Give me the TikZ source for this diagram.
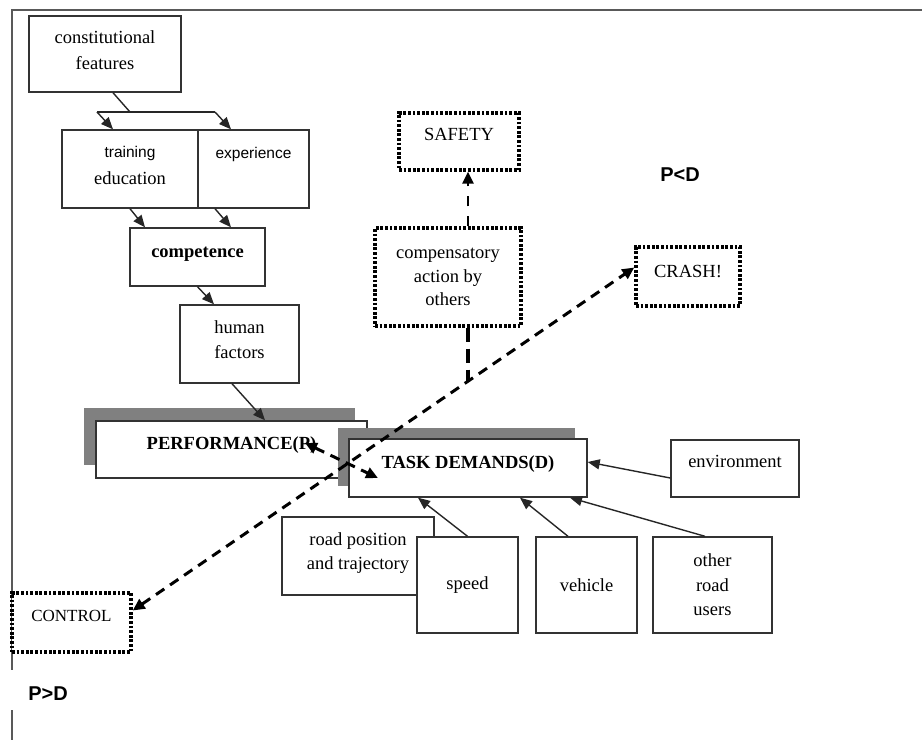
\documentclass[tikz,border=0pt]{standalone}
\usepackage{fontspec}
\setmainfont{Liberation Serif}
\newfontfamily\arialf{Liberation Sans}
\usetikzlibrary{arrows.meta,calc}
\begin{document}
\begin{tikzpicture}[x=1pt,y=-1pt,
  box/.style={draw=black!80, line width=1.4pt, fill=white, inner sep=0pt, align=center,
              font=\fontsize{18.5}{24.5}\selectfont},
  bbox/.style={box, font=\bfseries\fontsize{18.5}{24.5}\selectfont},
  dotbox/.style={box, draw=black, line width=3.4pt, dash pattern=on 2.8pt off 1.8pt},
  shadowbox/.style={fill=black!50, draw=none, inner sep=0pt},
  frame/.style={draw=black!65, line width=1.5pt},
  plain/.style={draw=black!85, line width=1.4pt},
  arr/.style={plain, -{Triangle[length=12pt,width=10pt]}},
  dline/.style={line width=3pt, dash pattern=on 10pt off 7pt},
  dthin/.style={line width=2.4pt, dash pattern=on 10pt off 10pt},
  dthick/.style={line width=4pt, dash pattern=on 14pt off 7pt},
  dtip/.style={-{Triangle[length=12pt,width=11pt]}},
  dtips/.style={{Triangle[length=12pt,width=11pt]}-{Triangle[length=12pt,width=11pt]}},
  tx/.style={text height=13pt, text depth=#1},
  sflabel/.style={font=\arialf\bfseries\fontsize{20}{24}\selectfont, inner sep=0pt}
]
\useasboundingbox (0,0) rectangle (922,740);
% frame
\draw[frame] (922,10) -- (12,10) -- (12,670);
\draw[frame] (12,710) -- (12,740);

% left column
\node[box, minimum width=152pt, minimum height=76pt, text depth=8pt, font=\fontsize{18.5}{26}\selectfont] (cf) at (105,54) {constitutional\\features};
\node[box, minimum width=136pt, minimum height=78pt, text depth=7pt] (te) at (130,169)
  {{\arialf\fontsize{15.5}{18}\selectfont training}\\[3pt]education};
\node[box, minimum width=111pt, minimum height=78pt] (ex) at (253.5,169)
  {{\arialf\fontsize{15.5}{18}\selectfont experience}\\\strut};
\node[bbox, minimum width=135pt, minimum height=58pt, tx=12pt] (comp) at (197.5,257) {competence};
\node[box, minimum width=119pt, minimum height=78pt, text depth=9pt] (hf) at (239.5,344) {human\\factors};

% performance and task demands
\node[shadowbox, minimum width=271pt, minimum height=57pt] (perfsh) at (219.5,436.5) {};
\node[bbox, minimum width=271pt, minimum height=57pt, tx=13pt] (perf) at (231.5,449.5) {PERFORMANCE(P)};
\node[shadowbox, minimum width=237pt, minimum height=58pt] (tdsh) at (456.5,457) {};
\node[bbox, minimum width=238pt, minimum height=58pt, tx=12pt] (td) at (468,468) {TASK DEMANDS(D)};

% factors
\node[box, minimum width=128pt, minimum height=57pt, tx=16pt] (env) at (735,468.5) {environment};
\node[box, minimum width=152pt, minimum height=78pt, text depth=10pt] (rp) at (358,556) {road position\\and trajectory};
\node[box, minimum width=101pt, minimum height=96pt] (sp) at (467.5,585) {speed};
\node[box, minimum width=101pt, minimum height=96pt] (ve) at (586.5,585) {vehicle};
\node[box, minimum width=119pt, minimum height=96pt] (oru) at (712.5,585) {other\\road\\users};

% dotted outcome boxes
\node[dotbox, minimum width=120pt, minimum height=57pt, tx=15pt] (safety) at (459,141.5) {SAFETY};
\node[dotbox, minimum width=146pt, minimum height=98pt, font=\fontsize{18.5}{23.5}\selectfont] (ca) at (448,277)
  {compensatory\\action by\\others};
\node[dotbox, minimum width=104pt, minimum height=59pt, tx=11pt] (crash) at (688,276.5) {CRASH!};
\node[dotbox, minimum width=119pt, minimum height=59pt, font=\fontsize{17}{20}\selectfont, tx=15pt] (control) at (71.5,622.5) {CONTROL};

% labels
\node[sflabel] (pld) at (680,175) {P<D};
\node[sflabel] (pgd) at (48,694) {P>D};

% solid connectors
\coordinate (j1) at (130,112);
\coordinate (jl) at (97,112);
\coordinate (jr) at (215,112);
\draw[plain] ([xshift=8pt]cf.south) -- (j1);
\draw[plain] (jl) -- (jr);
\draw[arr] (jl) -- ([xshift=-17pt]te.north);
\draw[arr] (jr) -- ([xshift=-22.5pt]ex.north);
\draw[arr] (te.south) -- ([xshift=-52.5pt]comp.north);
\draw[arr] ([xshift=-38.5pt]ex.south) -- ([xshift=33.5pt]comp.north);
\draw[arr] (comp.south) -- ([xshift=-25.5pt]hf.north);
\draw[arr] ([xshift=-7.5pt]hf.south) -- ([xshift=33.5pt]perf.north);
\draw[arr] ([yshift=-9.5pt]env.west) -- ([yshift=6pt]td.east);
\draw[arr] (sp.north) -- ([xshift=-50pt]td.south);
\draw[arr] ([xshift=-18.5pt]ve.north) -- ([xshift=52pt]td.south);
\draw[arr] ([xshift=-7.5pt]oru.north) -- ([xshift=102pt]td.south);

% dashed connectors
\coordinate (m) at (468,382);
\draw[dthick] ([xshift=20pt]ca.south) -- (m);
\draw[dthin, dtip] ([xshift=20pt]ca.north) -- ([xshift=20pt]ca.north |- safety.south);
\draw[dline, dtips] ([yshift=12pt]control.east) -- ([yshift=9pt]crash.west);
\draw[dline, dtips] ([shift={(73.5pt,6.5pt)}]perf.center) -- ([shift={(-90pt,-10pt)}]td.center);
\end{tikzpicture}
\end{document}
